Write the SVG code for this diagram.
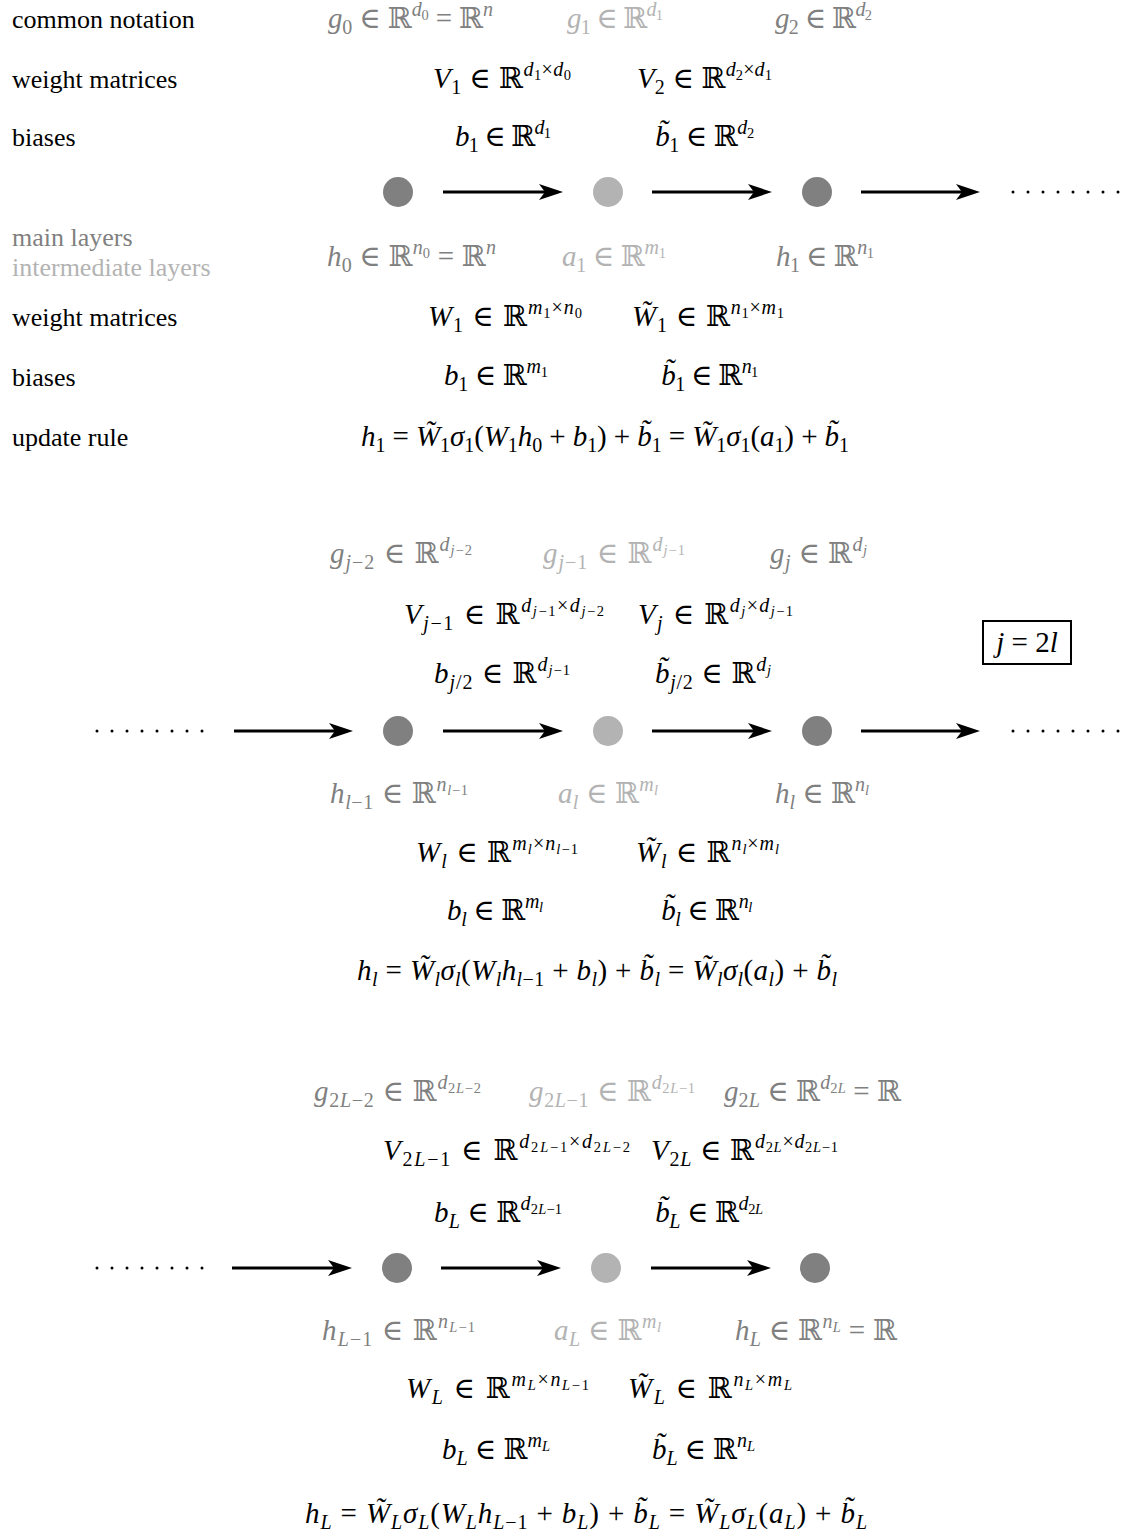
<svg xmlns="http://www.w3.org/2000/svg" width="1121" height="1532" viewBox="0 0 1121 1532">
<style>
.t{font-family:"Liberation Serif","DejaVu Serif",serif;font-size:26px;fill:#000}
.m{font-family:"Liberation Serif","DejaVu Serif",serif;font-size:29px;fill:#000}
.v{font-style:italic}
.s{font-size:20px}
.x{font-size:14.5px}
.gm{fill:#808080}
.gi{fill:#b3b3b3}
.edge{stroke:#000;stroke-width:3;fill:none}
.dot{fill:#000}
</style>
<defs>
<marker id="arr" markerUnits="userSpaceOnUse" markerWidth="26" markerHeight="18" refX="14" refY="8" orient="auto">
<path d="M0,0 L24,8 L0,16 L6,8 z" fill="#000"/>
</marker>
</defs>
<rect width="1121" height="1532" fill="#fff"/>

<g id="labels">
<text class="t" x="12" y="28">common notation</text>
<text class="t" x="12" y="88">weight matrices</text>
<text class="t" x="12" y="146">biases</text>
<text class="t gm" x="12" y="246">main layers</text>
<text class="t gi" x="12" y="276">intermediate layers</text>
<text class="t" x="12" y="326">weight matrices</text>
<text class="t" x="12" y="386">biases</text>
<text class="t" x="12" y="446">update rule</text>
</g>

<g id="connectors">
<line class="edge" x1="443" y1="192" x2="553" y2="192" marker-end="url(#arr)"/>
<line class="edge" x1="652" y1="192" x2="762" y2="192" marker-end="url(#arr)"/>
<line class="edge" x1="861" y1="192" x2="970" y2="192" marker-end="url(#arr)"/>
<line class="edge" x1="234" y1="731" x2="343" y2="731" marker-end="url(#arr)"/>
<line class="edge" x1="443" y1="731" x2="553" y2="731" marker-end="url(#arr)"/>
<line class="edge" x1="652" y1="731" x2="762" y2="731" marker-end="url(#arr)"/>
<line class="edge" x1="861" y1="731" x2="970" y2="731" marker-end="url(#arr)"/>
<line class="edge" x1="232" y1="1268" x2="342" y2="1268" marker-end="url(#arr)"/>
<line class="edge" x1="441" y1="1268" x2="551" y2="1268" marker-end="url(#arr)"/>
<line class="edge" x1="651" y1="1268" x2="761" y2="1268" marker-end="url(#arr)"/>
</g>

<g id="dots-1">
<circle class="dot" cx="1013" cy="192" r="1.5"/><circle class="dot" cx="1028" cy="192" r="1.5"/><circle class="dot" cx="1043" cy="192" r="1.5"/><circle class="dot" cx="1058" cy="192" r="1.5"/><circle class="dot" cx="1073" cy="192" r="1.5"/><circle class="dot" cx="1088" cy="192" r="1.5"/><circle class="dot" cx="1103" cy="192" r="1.5"/><circle class="dot" cx="1118" cy="192" r="1.5"/>
</g>
<g id="dots-2">
<circle class="dot" cx="97" cy="731" r="1.5"/><circle class="dot" cx="112" cy="731" r="1.5"/><circle class="dot" cx="127" cy="731" r="1.5"/><circle class="dot" cx="142" cy="731" r="1.5"/><circle class="dot" cx="157" cy="731" r="1.5"/><circle class="dot" cx="172" cy="731" r="1.5"/><circle class="dot" cx="187" cy="731" r="1.5"/><circle class="dot" cx="202" cy="731" r="1.5"/>
<circle class="dot" cx="1013" cy="731" r="1.5"/><circle class="dot" cx="1028" cy="731" r="1.5"/><circle class="dot" cx="1043" cy="731" r="1.5"/><circle class="dot" cx="1058" cy="731" r="1.5"/><circle class="dot" cx="1073" cy="731" r="1.5"/><circle class="dot" cx="1088" cy="731" r="1.5"/><circle class="dot" cx="1103" cy="731" r="1.5"/><circle class="dot" cx="1118" cy="731" r="1.5"/>
</g>
<g id="dots-3">
<circle class="dot" cx="97" cy="1268" r="1.5"/><circle class="dot" cx="112" cy="1268" r="1.5"/><circle class="dot" cx="127" cy="1268" r="1.5"/><circle class="dot" cx="142" cy="1268" r="1.5"/><circle class="dot" cx="157" cy="1268" r="1.5"/><circle class="dot" cx="172" cy="1268" r="1.5"/><circle class="dot" cx="187" cy="1268" r="1.5"/><circle class="dot" cx="202" cy="1268" r="1.5"/>
</g>

<g id="node-h0"><circle cx="398" cy="192" r="15" fill="#808080"/></g>
<g id="node-a1"><circle cx="608" cy="192" r="15" fill="#b3b3b3"/></g>
<g id="node-h1"><circle cx="817" cy="192" r="15" fill="#808080"/></g>
<g id="node-hl-1"><circle cx="398" cy="731" r="15" fill="#808080"/></g>
<g id="node-al"><circle cx="608" cy="731" r="15" fill="#b3b3b3"/></g>
<g id="node-hl"><circle cx="817" cy="731" r="15" fill="#808080"/></g>
<g id="node-hL-1"><circle cx="397" cy="1268" r="15" fill="#808080"/></g>
<g id="node-aL"><circle cx="606" cy="1268" r="15" fill="#b3b3b3"/></g>
<g id="node-hL"><circle cx="815" cy="1268" r="15" fill="#808080"/></g>

<g id="box-j">
<rect x="983" y="621" width="88" height="43" fill="none" stroke="#000" stroke-width="2"/>
<text class="m" x="1027" y="652" text-anchor="middle"><tspan class="v">j</tspan> = 2<tspan class="v">l</tspan></text>
</g>

<g id="section-1">
<text class="m gm" x="410.5" y="28" text-anchor="middle" textLength="165"><tspan class="v">g</tspan><tspan class="s" dy="6">0</tspan><tspan dy="-6"> ∈ ℝ</tspan><tspan class="s v" dy="-12">d</tspan><tspan class="x" dy="4">0</tspan><tspan dy="8"> = ℝ</tspan><tspan class="s v" dy="-12">n</tspan></text>
<text class="m gi" x="615" y="28" text-anchor="middle" textLength="96"><tspan class="v">g</tspan><tspan class="s" dy="6">1</tspan><tspan dy="-6"> ∈ ℝ</tspan><tspan class="s v" dy="-12">d</tspan><tspan class="x" dy="4">1</tspan></text>
<text class="m gm" x="823.5" y="28" text-anchor="middle" textLength="97"><tspan class="v">g</tspan><tspan class="s" dy="6">2</tspan><tspan dy="-6"> ∈ ℝ</tspan><tspan class="s v" dy="-12">d</tspan><tspan class="x" dy="4">2</tspan></text>

<text class="m" x="502" y="88" text-anchor="middle" textLength="138"><tspan class="v">V</tspan><tspan class="s" dy="6">1</tspan><tspan dy="-6"> ∈ ℝ</tspan><tspan class="s v" dy="-12">d</tspan><tspan class="x" dy="4">1</tspan><tspan class="s" dy="-4">×</tspan><tspan class="s v">d</tspan><tspan class="x" dy="4">0</tspan></text>
<text class="m" x="704.5" y="88" text-anchor="middle" textLength="135"><tspan class="v">V</tspan><tspan class="s" dy="6">2</tspan><tspan dy="-6"> ∈ ℝ</tspan><tspan class="s v" dy="-12">d</tspan><tspan class="x" dy="4">2</tspan><tspan class="s" dy="-4">×</tspan><tspan class="s v">d</tspan><tspan class="x" dy="4">1</tspan></text>

<text class="m" x="503" y="146" text-anchor="middle" textLength="96"><tspan class="v">b</tspan><tspan class="s" dy="6">1</tspan><tspan dy="-6"> ∈ ℝ</tspan><tspan class="s v" dy="-12">d</tspan><tspan class="x" dy="4">1</tspan></text>
<text class="m" x="704.5" y="146" text-anchor="middle" textLength="99"><tspan class="v">b̃</tspan><tspan class="s" dy="6">1</tspan><tspan dy="-6"> ∈ ℝ</tspan><tspan class="s v" dy="-12">d</tspan><tspan class="x" dy="4">2</tspan></text>

<text class="m gm" x="411.5" y="266" text-anchor="middle" textLength="169"><tspan class="v">h</tspan><tspan class="s" dy="6">0</tspan><tspan dy="-6"> ∈ ℝ</tspan><tspan class="s v" dy="-12">n</tspan><tspan class="x" dy="4">0</tspan><tspan dy="8"> = ℝ</tspan><tspan class="s v" dy="-12">n</tspan></text>
<text class="m gi" x="614" y="266" text-anchor="middle" textLength="104"><tspan class="v">a</tspan><tspan class="s" dy="6">1</tspan><tspan dy="-6"> ∈ ℝ</tspan><tspan class="s v" dy="-12">m</tspan><tspan class="x" dy="4">1</tspan></text>
<text class="m gm" x="825" y="266" text-anchor="middle" textLength="98"><tspan class="v">h</tspan><tspan class="s" dy="6">1</tspan><tspan dy="-6"> ∈ ℝ</tspan><tspan class="s v" dy="-12">n</tspan><tspan class="x" dy="4">1</tspan></text>

<text class="m" x="505" y="326" text-anchor="middle" textLength="154"><tspan class="v">W</tspan><tspan class="s" dy="6">1</tspan><tspan dy="-6"> ∈ ℝ</tspan><tspan class="s v" dy="-12">m</tspan><tspan class="x" dy="4">1</tspan><tspan class="s" dy="-4">×</tspan><tspan class="s v">n</tspan><tspan class="x" dy="4">0</tspan></text>
<text class="m" x="708" y="326" text-anchor="middle" textLength="152"><tspan class="v">W̃</tspan><tspan class="s" dy="6">1</tspan><tspan dy="-6"> ∈ ℝ</tspan><tspan class="s v" dy="-12">n</tspan><tspan class="x" dy="4">1</tspan><tspan class="s" dy="-4">×</tspan><tspan class="s v">m</tspan><tspan class="x" dy="4">1</tspan></text>

<text class="m" x="496" y="385" text-anchor="middle" textLength="104"><tspan class="v">b</tspan><tspan class="s" dy="6">1</tspan><tspan dy="-6"> ∈ ℝ</tspan><tspan class="s v" dy="-12">m</tspan><tspan class="x" dy="4">1</tspan></text>
<text class="m" x="709.5" y="385" text-anchor="middle" textLength="97"><tspan class="v">b̃</tspan><tspan class="s" dy="6">1</tspan><tspan dy="-6"> ∈ ℝ</tspan><tspan class="s v" dy="-12">n</tspan><tspan class="x" dy="4">1</tspan></text>

<text class="m" x="605" y="446" text-anchor="middle" textLength="488"><tspan class="v">h</tspan><tspan class="s" dy="6">1</tspan><tspan dy="-6"> = </tspan><tspan class="v">W̃</tspan><tspan class="s" dy="6">1</tspan><tspan class="v" dy="-6">σ</tspan><tspan class="s" dy="6">1</tspan><tspan dy="-6">(</tspan><tspan class="v">W</tspan><tspan class="s" dy="6">1</tspan><tspan class="v" dy="-6">h</tspan><tspan class="s" dy="6">0</tspan><tspan dy="-6"> + </tspan><tspan class="v">b</tspan><tspan class="s" dy="6">1</tspan><tspan dy="-6">) + </tspan><tspan class="v">b̃</tspan><tspan class="s" dy="6">1</tspan><tspan dy="-6"> = </tspan><tspan class="v">W̃</tspan><tspan class="s" dy="6">1</tspan><tspan class="v" dy="-6">σ</tspan><tspan class="s" dy="6">1</tspan><tspan dy="-6">(</tspan><tspan class="v">a</tspan><tspan class="s" dy="6">1</tspan><tspan dy="-6">) + </tspan><tspan class="v">b̃</tspan><tspan class="s" dy="6">1</tspan></text>
</g>

<g id="section-2">
<text class="m gm" x="401" y="563" text-anchor="middle" textLength="142"><tspan class="v">g</tspan><tspan class="s" dy="6"><tspan class="v">j</tspan>−2</tspan><tspan dy="-6"> ∈ ℝ</tspan><tspan class="s v" dy="-12">d</tspan><tspan class="x" dy="4"><tspan class="v">j</tspan>−2</tspan></text>
<text class="m gi" x="614" y="563" text-anchor="middle" textLength="142"><tspan class="v">g</tspan><tspan class="s" dy="6"><tspan class="v">j</tspan>−1</tspan><tspan dy="-6"> ∈ ℝ</tspan><tspan class="s v" dy="-12">d</tspan><tspan class="x" dy="4"><tspan class="v">j</tspan>−1</tspan></text>
<text class="m gm" x="818.5" y="563" text-anchor="middle" textLength="97"><tspan class="v">g</tspan><tspan class="s v" dy="6">j</tspan><tspan dy="-6"> ∈ ℝ</tspan><tspan class="s v" dy="-12">d</tspan><tspan class="x v" dy="4">j</tspan></text>

<text class="m" x="504" y="624" text-anchor="middle" textLength="200"><tspan class="v">V</tspan><tspan class="s" dy="6"><tspan class="v">j</tspan>−1</tspan><tspan dy="-6"> ∈ ℝ</tspan><tspan class="s v" dy="-12">d</tspan><tspan class="x" dy="4"><tspan class="v">j</tspan>−1</tspan><tspan class="s" dy="-4">×</tspan><tspan class="s v">d</tspan><tspan class="x" dy="4"><tspan class="v">j</tspan>−2</tspan></text>
<text class="m" x="715.5" y="624" text-anchor="middle" textLength="155"><tspan class="v">V</tspan><tspan class="s v" dy="6">j</tspan><tspan dy="-6"> ∈ ℝ</tspan><tspan class="s v" dy="-12">d</tspan><tspan class="x v" dy="4">j</tspan><tspan class="s" dy="-4">×</tspan><tspan class="s v">d</tspan><tspan class="x" dy="4"><tspan class="v">j</tspan>−1</tspan></text>

<text class="m" x="502" y="683" text-anchor="middle" textLength="136"><tspan class="v">b</tspan><tspan class="s" dy="6"><tspan class="v">j</tspan>/2</tspan><tspan dy="-6"> ∈ ℝ</tspan><tspan class="s v" dy="-12">d</tspan><tspan class="x" dy="4"><tspan class="v">j</tspan>−1</tspan></text>
<text class="m" x="713" y="683" text-anchor="middle" textLength="116"><tspan class="v">b̃</tspan><tspan class="s" dy="6"><tspan class="v">j</tspan>/2</tspan><tspan dy="-6"> ∈ ℝ</tspan><tspan class="s v" dy="-12">d</tspan><tspan class="x v" dy="4">j</tspan></text>

<text class="m gm" x="399" y="803" text-anchor="middle" textLength="138"><tspan class="v">h</tspan><tspan class="s" dy="6"><tspan class="v">l</tspan>−1</tspan><tspan dy="-6"> ∈ ℝ</tspan><tspan class="s v" dy="-12">n</tspan><tspan class="x" dy="4"><tspan class="v">l</tspan>−1</tspan></text>
<text class="m gi" x="608" y="803" text-anchor="middle" textLength="100"><tspan class="v">a</tspan><tspan class="s v" dy="6">l</tspan><tspan dy="-6"> ∈ ℝ</tspan><tspan class="s v" dy="-12">m</tspan><tspan class="x v" dy="4">l</tspan></text>
<text class="m gm" x="822" y="803" text-anchor="middle" textLength="94"><tspan class="v">h</tspan><tspan class="s v" dy="6">l</tspan><tspan dy="-6"> ∈ ℝ</tspan><tspan class="s v" dy="-12">n</tspan><tspan class="x v" dy="4">l</tspan></text>

<text class="m" x="497" y="862" text-anchor="middle" textLength="162"><tspan class="v">W</tspan><tspan class="s v" dy="6">l</tspan><tspan dy="-6"> ∈ ℝ</tspan><tspan class="s v" dy="-12">m</tspan><tspan class="x v" dy="4">l</tspan><tspan class="s" dy="-4">×</tspan><tspan class="s v">n</tspan><tspan class="x" dy="4"><tspan class="v">l</tspan>−1</tspan></text>
<text class="m" x="707.5" y="862" text-anchor="middle" textLength="143"><tspan class="v">W̃</tspan><tspan class="s v" dy="6">l</tspan><tspan dy="-6"> ∈ ℝ</tspan><tspan class="s v" dy="-12">n</tspan><tspan class="x v" dy="4">l</tspan><tspan class="s" dy="-4">×</tspan><tspan class="s v">m</tspan><tspan class="x v" dy="4">l</tspan></text>

<text class="m" x="495" y="920" text-anchor="middle" textLength="96"><tspan class="v">b</tspan><tspan class="s v" dy="6">l</tspan><tspan dy="-6"> ∈ ℝ</tspan><tspan class="s v" dy="-12">m</tspan><tspan class="x v" dy="4">l</tspan></text>
<text class="m" x="706.5" y="920" text-anchor="middle" textLength="91"><tspan class="v">b̃</tspan><tspan class="s v" dy="6">l</tspan><tspan dy="-6"> ∈ ℝ</tspan><tspan class="s v" dy="-12">n</tspan><tspan class="x v" dy="4">l</tspan></text>

<text class="m" x="597" y="980" text-anchor="middle" textLength="480"><tspan class="v">h</tspan><tspan class="s v" dy="6">l</tspan><tspan dy="-6"> = </tspan><tspan class="v">W̃</tspan><tspan class="s v" dy="6">l</tspan><tspan class="v" dy="-6">σ</tspan><tspan class="s v" dy="6">l</tspan><tspan dy="-6">(</tspan><tspan class="v">W</tspan><tspan class="s v" dy="6">l</tspan><tspan class="v" dy="-6">h</tspan><tspan class="s" dy="6"><tspan class="v">l</tspan>−1</tspan><tspan dy="-6"> + </tspan><tspan class="v">b</tspan><tspan class="s v" dy="6">l</tspan><tspan dy="-6">) + </tspan><tspan class="v">b̃</tspan><tspan class="s v" dy="6">l</tspan><tspan dy="-6"> = </tspan><tspan class="v">W̃</tspan><tspan class="s v" dy="6">l</tspan><tspan class="v" dy="-6">σ</tspan><tspan class="s v" dy="6">l</tspan><tspan dy="-6">(</tspan><tspan class="v">a</tspan><tspan class="s v" dy="6">l</tspan><tspan dy="-6">) + </tspan><tspan class="v">b̃</tspan><tspan class="s v" dy="6">l</tspan></text>
</g>

<g id="section-3">
<text class="m gm" x="397.5" y="1101" text-anchor="middle" textLength="167"><tspan class="v">g</tspan><tspan class="s" dy="6">2<tspan class="v">L</tspan>−2</tspan><tspan dy="-6"> ∈ ℝ</tspan><tspan class="s v" dy="-12">d</tspan><tspan class="x" dy="4">2<tspan class="v">L</tspan>−2</tspan></text>
<text class="m gi" x="612" y="1101" text-anchor="middle" textLength="166"><tspan class="v">g</tspan><tspan class="s" dy="6">2<tspan class="v">L</tspan>−1</tspan><tspan dy="-6"> ∈ ℝ</tspan><tspan class="s v" dy="-12">d</tspan><tspan class="x" dy="4">2<tspan class="v">L</tspan>−1</tspan></text>
<text class="m gm" x="812.5" y="1101" text-anchor="middle" textLength="177"><tspan class="v">g</tspan><tspan class="s" dy="6">2<tspan class="v">L</tspan></tspan><tspan dy="-6"> ∈ ℝ</tspan><tspan class="s v" dy="-12">d</tspan><tspan class="x" dy="4">2<tspan class="v">L</tspan></tspan><tspan dy="8"> = ℝ</tspan></text>

<text class="m" x="506.5" y="1160" text-anchor="middle" textLength="247"><tspan class="v">V</tspan><tspan class="s" dy="6">2<tspan class="v">L</tspan>−1</tspan><tspan dy="-6"> ∈ ℝ</tspan><tspan class="s v" dy="-12">d</tspan><tspan class="x" dy="4">2<tspan class="v">L</tspan>−1</tspan><tspan class="s" dy="-4">×</tspan><tspan class="s v">d</tspan><tspan class="x" dy="4">2<tspan class="v">L</tspan>−2</tspan></text>
<text class="m" x="744.5" y="1160" text-anchor="middle" textLength="187"><tspan class="v">V</tspan><tspan class="s" dy="6">2<tspan class="v">L</tspan></tspan><tspan dy="-6"> ∈ ℝ</tspan><tspan class="s v" dy="-12">d</tspan><tspan class="x" dy="4">2<tspan class="v">L</tspan></tspan><tspan class="s" dy="-4">×</tspan><tspan class="s v">d</tspan><tspan class="x" dy="4">2<tspan class="v">L</tspan>−1</tspan></text>

<text class="m" x="498" y="1222" text-anchor="middle" textLength="128"><tspan class="v">b</tspan><tspan class="s v" dy="6">L</tspan><tspan dy="-6"> ∈ ℝ</tspan><tspan class="s v" dy="-12">d</tspan><tspan class="x" dy="4">2<tspan class="v">L</tspan>−1</tspan></text>
<text class="m" x="709" y="1222" text-anchor="middle" textLength="108"><tspan class="v">b̃</tspan><tspan class="s v" dy="6">L</tspan><tspan dy="-6"> ∈ ℝ</tspan><tspan class="s v" dy="-12">d</tspan><tspan class="x" dy="4">2<tspan class="v">L</tspan></tspan></text>

<text class="m gm" x="398.5" y="1340" text-anchor="middle" textLength="153"><tspan class="v">h</tspan><tspan class="s" dy="6"><tspan class="v">L</tspan>−1</tspan><tspan dy="-6"> ∈ ℝ</tspan><tspan class="s v" dy="-12">n</tspan><tspan class="x" dy="4"><tspan class="v">L</tspan>−1</tspan></text>
<text class="m gi" x="607.5" y="1340" text-anchor="middle" textLength="107"><tspan class="v">a</tspan><tspan class="s v" dy="6">L</tspan><tspan dy="-6"> ∈ ℝ</tspan><tspan class="s v" dy="-12">m</tspan><tspan class="x v" dy="4">l</tspan></text>
<text class="m gm" x="816" y="1340" text-anchor="middle" textLength="162"><tspan class="v">h</tspan><tspan class="s v" dy="6">L</tspan><tspan dy="-6"> ∈ ℝ</tspan><tspan class="s v" dy="-12">n</tspan><tspan class="x v" dy="4">L</tspan><tspan dy="8"> = ℝ</tspan></text>

<text class="m" x="497.5" y="1398" text-anchor="middle" textLength="183"><tspan class="v">W</tspan><tspan class="s v" dy="6">L</tspan><tspan dy="-6"> ∈ ℝ</tspan><tspan class="s v" dy="-12">m</tspan><tspan class="x v" dy="4">L</tspan><tspan class="s" dy="-4">×</tspan><tspan class="s v">n</tspan><tspan class="x" dy="4"><tspan class="v">L</tspan>−1</tspan></text>
<text class="m" x="710" y="1398" text-anchor="middle" textLength="164"><tspan class="v">W̃</tspan><tspan class="s v" dy="6">L</tspan><tspan dy="-6"> ∈ ℝ</tspan><tspan class="s v" dy="-12">n</tspan><tspan class="x v" dy="4">L</tspan><tspan class="s" dy="-4">×</tspan><tspan class="s v">m</tspan><tspan class="x v" dy="4">L</tspan></text>

<text class="m" x="496" y="1459" text-anchor="middle" textLength="108"><tspan class="v">b</tspan><tspan class="s v" dy="6">L</tspan><tspan dy="-6"> ∈ ℝ</tspan><tspan class="s v" dy="-12">m</tspan><tspan class="x v" dy="4">L</tspan></text>
<text class="m" x="703.5" y="1459" text-anchor="middle" textLength="103"><tspan class="v">b̃</tspan><tspan class="s v" dy="6">L</tspan><tspan dy="-6"> ∈ ℝ</tspan><tspan class="s v" dy="-12">n</tspan><tspan class="x v" dy="4">L</tspan></text>

<text class="m" x="586" y="1523" text-anchor="middle" textLength="562"><tspan class="v">h</tspan><tspan class="s v" dy="6">L</tspan><tspan dy="-6"> = </tspan><tspan class="v">W̃</tspan><tspan class="s v" dy="6">L</tspan><tspan class="v" dy="-6">σ</tspan><tspan class="s v" dy="6">L</tspan><tspan dy="-6">(</tspan><tspan class="v">W</tspan><tspan class="s v" dy="6">L</tspan><tspan class="v" dy="-6">h</tspan><tspan class="s" dy="6"><tspan class="v">L</tspan>−1</tspan><tspan dy="-6"> + </tspan><tspan class="v">b</tspan><tspan class="s v" dy="6">L</tspan><tspan dy="-6">) + </tspan><tspan class="v">b̃</tspan><tspan class="s v" dy="6">L</tspan><tspan dy="-6"> = </tspan><tspan class="v">W̃</tspan><tspan class="s v" dy="6">L</tspan><tspan class="v" dy="-6">σ</tspan><tspan class="s v" dy="6">L</tspan><tspan dy="-6">(</tspan><tspan class="v">a</tspan><tspan class="s v" dy="6">L</tspan><tspan dy="-6">) + </tspan><tspan class="v">b̃</tspan><tspan class="s v" dy="6">L</tspan></text>
</g>
</svg>
